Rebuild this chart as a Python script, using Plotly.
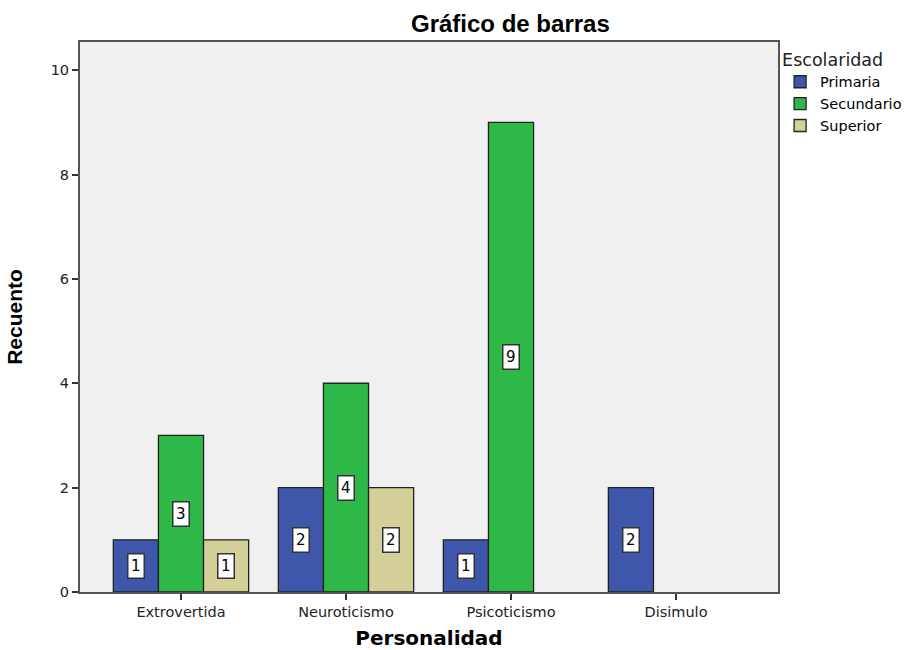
import plotly.graph_objects as go

categories = ["Extrovertida", "Neuroticismo", "Psicoticismo", "Disimulo"]
primaria = [1, 2, 1, 2]
secundaria = [3, 4, 9, None]
superior = [1, 2, None, None]
series_names = ["Primaria", "Secundario", "Superior"]
colors = ["#3E57AB", "#2EB848", "#D4CF99"]
y_ticks = [0, 2, 4, 6, 8, 10]

series = [primaria, secundaria, superior]

fig = go.Figure()
for name, vals, col in zip(series_names, series, colors):
    fig.add_trace(go.Bar(
        x=categories, y=vals, name=name,
        marker=dict(color=col, line=dict(color="#222222", width=1.3)),
    ))

# labels in white boxes at mid height of each bar
bar_px = 45
for i, vals in enumerate(series):
    for c, v in zip(categories, vals):
        if v is None:
            continue
        fig.add_annotation(
            x=c, y=v / 2, text=str(v), showarrow=False,
            xshift=(i - 1) * bar_px,
            font=dict(family="DejaVu Sans", size=15, color="black"),
            bgcolor="white", bordercolor="#333333", borderwidth=1.5, borderpad=2.5,
        )

fig.add_annotation(
    x=0.617, y=1.0, xref="paper", yref="paper", yanchor="bottom", yshift=3,
    text="<b>Gráfico de barras</b>", showarrow=False,
    font=dict(family="Liberation Sans, Arial", size=24, color="black"),
)

fig.update_layout(
    width=907, height=650,
    margin=dict(l=80, r=129, t=42, b=58, autoexpand=False),
    paper_bgcolor="white", plot_bgcolor="#F0F0F0",
    barmode="group", bargap=0.18, bargroupgap=0,
    font=dict(family="DejaVu Sans", size=14, color="#222222"),
    legend=dict(
        x=1.003, y=0.998, xanchor="left", yanchor="top",
        title=dict(text="Escolaridad", font=dict(size=17.5, color="#222222")),
        font=dict(size=14.5, color="black"),
        itemwidth=30, tracegroupgap=0, bgcolor="rgba(0,0,0,0)",
    ),
    showlegend=True,
)
fig.update_xaxes(
    range=[-0.612, 3.618], showline=True, linecolor="#555555", linewidth=2, mirror=True,
    ticks="outside", ticklen=6, tickcolor="#333333", tickwidth=1.5, automargin=False,
    title=dict(text="<b>Personalidad</b>", font=dict(family="DejaVu Sans", size=20, color="black"), standoff=14),
    tickfont=dict(size=14.5, color="#222222"), showgrid=False,
)
fig.update_yaxes(
    range=[0, 10.54], tickvals=y_ticks, showline=True, linecolor="#555555", linewidth=2, mirror=True,
    ticks="outside", ticklen=6, tickcolor="#333333", tickwidth=1.5, automargin=False,
    title=dict(text="<b>Recuento</b>", font=dict(family="Liberation Sans, Arial", size=21, color="black"), standoff=22),
    tickfont=dict(size=14.5, color="#222222"), showgrid=False, zeroline=False,
)

fig.write_html("out.html", config={"displayModeBar": False},
               post_script="document.body.style.margin='0';")
